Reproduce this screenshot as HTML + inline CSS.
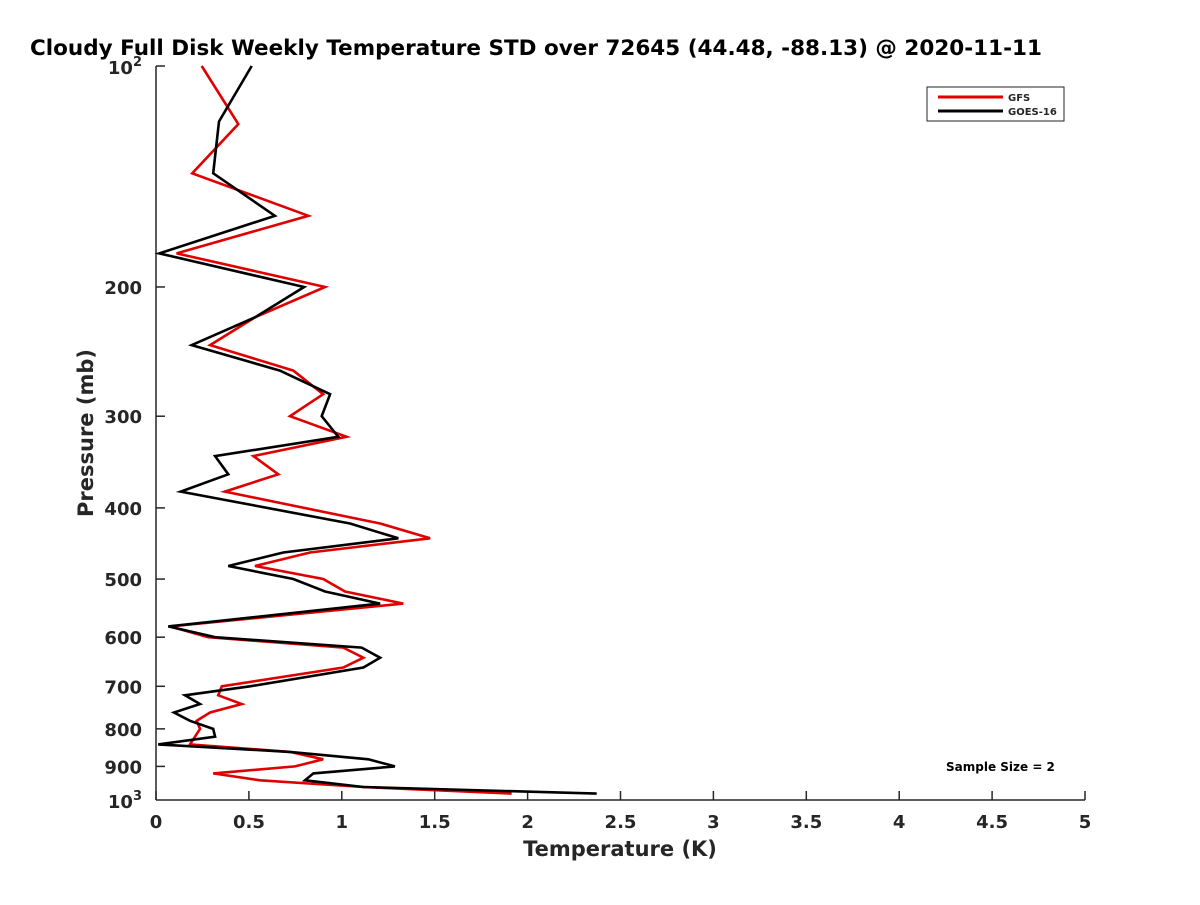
<!DOCTYPE html>
<html><head><meta charset="utf-8"><style>
body{margin:0;background:#fff}
svg text{font-family:"DejaVu Sans","Liberation Sans",sans-serif;font-weight:bold;fill:#262626}
</style></head><body>
<svg id="chart" width="1200" height="900" viewBox="0 0 1200 900" xmlns="http://www.w3.org/2000/svg">
<rect width="1200" height="900" fill="#fff"/>
<text x="30" y="55" font-size="21.5" style="fill:#000">Cloudy Full Disk Weekly Temperature STD over 72645 (44.48, -88.13) @ 2020-11-11</text>
<g id="axes"></g>
<g id="series"></g>
<g>
<rect x="927" y="87" width="137" height="34" fill="#fff" stroke="#262626" stroke-width="1"/>
<line x1="938" y1="97" x2="1003" y2="97" stroke="#e00000" stroke-width="3"/>
<text x="1008" y="101" font-size="10">GFS</text>
<line x1="938" y1="111" x2="1003" y2="111" stroke="#000" stroke-width="3"/>
<text x="1008" y="115" font-size="10">GOES-16</text>
</g>
<text x="946" y="771" font-size="12" style="fill:#000">Sample Size = 2</text>
<text x="620" y="856" font-size="21" text-anchor="middle">Temperature (K)</text>
<text transform="translate(93,433) rotate(-90)" font-size="21" text-anchor="middle">Pressure (mb)</text>
</svg>
<script>
const xTicks=[0,0.5,1,1.5,2,2.5,3,3.5,4,4.5,5];
const xTickLabels=["0","0.5","1","1.5","2","2.5","3","3.5","4","4.5","5"];
const yTicks=[200,300,400,500,600,700,800,900];
const gfsPressure=[100,120,140,160,180,200,220,240,260,280,300,320,340,360,380,420,440,460,480,500,520,540,580,600,620,640,660,700,720,740,760,780,800,840,860,880,900,920,940,960,980];
const gfsTemp=[0.246,0.443,0.195,0.820,0.111,0.910,0.533,0.291,0.739,0.900,0.721,1.026,0.524,0.658,0.371,1.206,1.475,0.829,0.533,0.900,1.017,1.331,0.075,0.281,1.008,1.116,1.008,0.354,0.335,0.461,0.291,0.219,0.237,0.183,0.721,0.900,0.748,0.308,0.560,1.116,1.914];
const goesPressure=[100,119,140,160,180,200,220,240,260,280,300,320,340,360,380,420,440,460,480,500,520,540,580,600,620,640,660,700,720,740,760,780,800,820,840,860,880,900,920,940,960,980];
const goesTemp=[0.515,0.339,0.308,0.640,0.018,0.797,0.533,0.192,0.667,0.937,0.892,0.981,0.318,0.389,0.133,1.044,1.304,0.685,0.389,0.739,0.910,1.206,0.066,0.318,1.107,1.206,1.116,0.506,0.156,0.237,0.097,0.183,0.308,0.318,0.012,0.720,1.143,1.286,0.847,0.802,1.116,2.372];
const NS="http://www.w3.org/2000/svg";
const X0=156,X1=1085,Y0=66,Y1=800;
function xs(v){return X0+(v-0)/(5-0)*(X1-X0);}
function ys(p){return Y0+(Math.log10(p)-2)*(Y1-Y0);}
function mk(tag,attrs,parent){const e=document.createElementNS(NS,tag);for(const k in attrs)e.setAttribute(k,attrs[k]);parent.appendChild(e);return e;}
const ax=document.getElementById('axes');
let l=mk('line',{x1:X0,y1:Y0,x2:X0,y2:Y1,stroke:'#262626','stroke-width':1.5},ax);


l=mk('line',{x1:X0,y1:Y1,x2:X1,y2:Y1,stroke:'#262626','stroke-width':1.5},ax);


l=mk('line',{x1:X0,y1:Y0,x2:X0+9,y2:Y0,stroke:'#262626','stroke-width':1.5},ax);


xTicks.forEach((v,i)=>{
 const t=mk('line',{x1:xs(v),y1:Y1,x2:xs(v),y2:Y1-9,stroke:'#262626','stroke-width':1.5},ax);
 
 
 const tx=mk('text',{x:xs(v),y:Y1+28,'font-size':18,'text-anchor':'middle'},ax);
 tx.textContent=xTickLabels[i];
 
 
});
yTicks.forEach(p=>{
 const t=mk('line',{x1:X0,y1:ys(p),x2:X0+9,y2:ys(p),stroke:'#262626','stroke-width':1.5},ax);
 
 
 const tx=mk('text',{x:X0-14,y:ys(p)+7,'font-size':18,'text-anchor':'end'},ax);
 tx.textContent=String(p);
 
 
});
[[100,'2'],[1000,'3']].forEach(([p,e])=>{
 const tx=mk('text',{x:X0-14,y:ys(p)+8,'font-size':18,'text-anchor':'end'},ax);
 tx.innerHTML='10<tspan dy="-8" font-size="13">'+e+'</tspan>';
 
 
});
const sg=document.getElementById('series');
function line(P,T,color,name){
 const d=P.map((p,i)=>(i?'L':'M')+xs(T[i]).toFixed(1)+','+ys(p).toFixed(1)).join('');
 const e=mk('path',{d:d,fill:'none',stroke:color,'stroke-width':2.6,'stroke-linejoin':'miter'},sg);
 
 
}
line(gfsPressure,gfsTemp,'#e00000','gfs-line');
line(goesPressure,goesTemp,'#000000','goes16-line');
</script>
</body></html>
